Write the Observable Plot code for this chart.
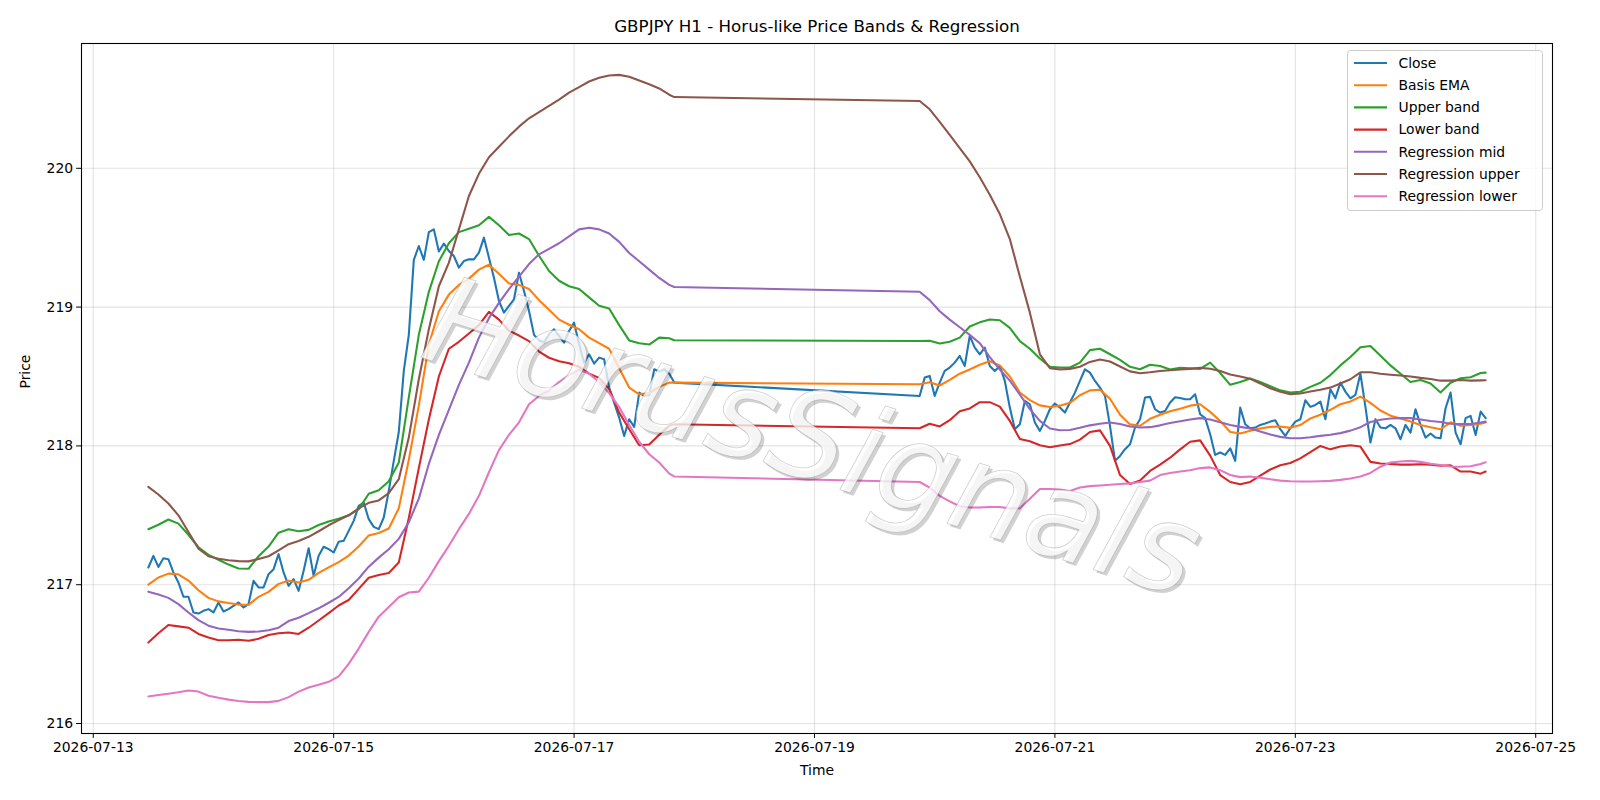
<!DOCTYPE html>
<html>
<head>
<meta charset="utf-8">
<script src="https://cdn.jsdelivr.net/npm/d3@7"></script>
<script src="https://cdn.jsdelivr.net/npm/@observablehq/plot@0.6"></script>
<style>
  body { margin: 0; background: #fff; }
  #chart svg { display: block; }
</style>
</head>
<body>
<div id="chart"></div>
<script>
// GBPJPY hourly bars: two trading sessions separated by the weekend close
const sessions = [
  ["2026-07-13T11:00Z", "2026-07-17T21:00Z"],
  ["2026-07-19T21:00Z", "2026-07-24T15:00Z"]
];

const seriesNames = ["Close", "Basis EMA", "Upper band", "Lower band", "Regression mid", "Regression upper", "Regression lower"];
const palette = ["#1f77b4", "#ff7f0e", "#2ca02c", "#d62728", "#9467bd", "#8c564b", "#e377c2"];

// Close, one value per hourly bar (Mon 11:00 .. Fri 20:00, then Sun 21:00 .. Fri 14:00)
const closePrice = [
  217.124, 217.208, 217.128, 217.19, 217.184, 217.088, 217.016, 216.913, 216.913, 216.80,
  216.792, 216.812, 216.824, 216.80, 216.872, 216.807, 216.824, 216.848, 216.872, 216.836,
  216.86, 217.028, 216.98, 216.98, 217.076, 217.112, 217.22, 217.088, 216.992, 217.04,
  216.956, 217.1, 217.263, 217.064, 217.208, 217.273, 217.256, 217.232, 217.31, 217.316,
  217.388, 217.46, 217.568, 217.592, 217.472, 217.417, 217.40, 217.484, 217.676, 217.892,
  218.1, 218.54, 218.8, 219.34, 219.44, 219.34, 219.54, 219.56, 219.40, 219.457,
  219.404, 219.368, 219.284, 219.332, 219.344, 219.344, 219.392, 219.50, 219.356, 219.212,
  219.044, 218.96, 219.008, 219.056, 219.248, 219.116, 218.972, 218.80, 218.761, 218.744,
  218.804, 218.84, 218.792, 218.744, 218.828, 218.888, 218.732, 218.60, 218.66, 218.593,
  218.636, 218.624, 218.42, 218.312, 218.204, 218.072, 218.192, 218.137, 218.384, 218.36,
  218.367, 218.552, 218.535, 218.552, 218.52, 218.456,
  // weekend gap
  218.36, 218.492, 218.504, 218.36, 218.456, 218.54, 218.564, 218.6, 218.648, 218.576,
  218.792, 218.708, 218.66, 218.708, 218.576, 218.54, 218.576, 218.468, 218.276, 218.12,
  218.156, 218.324, 218.30, 218.168, 218.108, 218.18, 218.264, 218.305, 218.276, 218.24,
  218.312, 218.384, 218.468, 218.552, 218.528, 218.468, 218.42, 218.36, 218.144, 217.892,
  217.928, 217.976, 218.012, 218.132, 218.192, 218.348, 218.353, 218.264, 218.24, 218.252,
  218.312, 218.35, 218.345, 218.336, 218.336, 218.372, 218.228, 218.2, 218.084, 217.935,
  217.952, 217.935, 217.983, 217.892, 218.276, 218.156, 218.127, 218.132, 218.151, 218.161,
  218.175, 218.185, 218.12, 218.072, 218.127, 218.175, 218.192, 218.329, 218.281, 218.295,
  218.319, 218.192, 218.408, 218.343, 218.456, 218.391, 218.343, 218.367, 218.521, 218.281,
  218.024, 218.192, 218.132, 218.127, 218.151, 218.127, 218.048, 218.151, 218.096, 218.264,
  218.151, 218.06, 218.089, 218.06, 218.055, 218.271, 218.384, 218.096, 218.012, 218.2,
  218.216, 218.079, 218.247, 218.2
];

// Smooth indicators, one value every second bar plus each session's last bar
const basisEma = [
  217.0, 217.052, 217.08, 217.075, 217.03, 216.96, 216.905, 216.88, 216.868, 216.858,
  216.855, 216.912, 216.948, 217.006, 217.028, 217.016, 217.035, 217.085, 217.125, 217.163,
  217.21, 217.275, 217.355, 217.372, 217.405, 217.55, 217.9, 218.29, 218.73, 218.97,
  219.09, 219.16, 219.205, 219.27, 219.305, 219.24, 219.17, 219.16, 219.13, 219.05,
  218.98, 218.91, 218.873, 218.84, 218.78, 218.74, 218.70, 218.56, 218.42, 218.372,
  218.38, 218.425, 218.456, 218.456,
  218.444, 218.458, 218.435, 218.475, 218.52, 218.55, 218.585, 218.61, 218.58, 218.5,
  218.385, 218.33, 218.292, 218.28, 218.29, 218.31, 218.365, 218.4, 218.405, 218.34,
  218.225, 218.155, 218.145, 218.195, 218.225, 218.25, 218.268, 218.29, 218.3, 218.245,
  218.18, 218.1, 218.09, 218.11, 218.125, 218.137, 218.14, 218.13, 218.15, 218.198,
  218.225, 218.26, 218.3, 218.32, 218.355, 218.31, 218.255, 218.218, 218.198, 218.175,
  218.15, 218.135, 218.12, 218.17, 218.145, 218.15, 218.16, 218.168
];

const upperBand = [
  217.40, 217.432, 217.47, 217.44, 217.36, 217.27, 217.215, 217.18, 217.145, 217.117,
  217.115, 217.205, 217.275, 217.375, 217.40, 217.385, 217.395, 217.43, 217.455, 217.475,
  217.50, 217.545, 217.655, 217.68, 217.745, 217.88, 218.35, 218.80, 219.11, 219.33,
  219.46, 219.54, 219.565, 219.59, 219.65, 219.59, 219.52, 219.53, 219.49, 219.37,
  219.26, 219.19, 219.15, 219.13, 219.07, 219.01, 218.99, 218.87, 218.76, 218.74,
  218.73, 218.78, 218.775, 218.761,
  218.756, 218.758, 218.737, 218.75, 218.78, 218.86, 218.89, 218.91, 218.905, 218.85,
  218.755, 218.70, 218.63, 218.57, 218.564, 218.565, 218.6, 218.69, 218.70, 218.66,
  218.62, 218.57, 218.552, 218.585, 218.575, 218.55, 218.563, 218.56, 218.555, 218.60,
  218.525, 218.44, 218.46, 218.485, 218.46, 218.43, 218.40, 218.385, 218.39, 218.425,
  218.455, 218.51, 218.58, 218.64, 218.71, 218.72, 218.65, 218.58, 218.52, 218.46,
  218.475, 218.45, 218.385, 218.455, 218.487, 218.495, 218.525, 218.528
];

const lowerBand = [
  216.584, 216.65, 216.71, 216.70, 216.69, 216.645, 216.62, 216.60, 216.6, 216.603,
  216.596, 216.61, 216.638, 216.65, 216.656, 216.645, 216.69, 216.742, 216.795, 216.85,
  216.89, 216.97, 217.05, 217.07, 217.085, 217.16, 217.48, 217.84, 218.19, 218.50,
  218.70, 218.75, 218.81, 218.87, 218.965, 218.91, 218.83, 218.795, 218.755, 218.68,
  218.635, 218.61, 218.595, 218.57, 218.52, 218.49, 218.41, 218.24, 218.12, 218.005,
  218.01, 218.08, 218.145, 218.156,
  218.127, 218.16, 218.14, 218.185, 218.25, 218.27, 218.315, 218.315, 218.283, 218.18,
  218.05, 218.033, 218.005, 217.99, 218.003, 218.013, 218.045, 218.10, 218.112, 218.0,
  217.79, 217.725, 217.75, 217.82, 217.865, 217.915, 217.975, 218.03, 218.04, 217.93,
  217.79, 217.74, 217.724, 217.74, 217.785, 217.83, 217.86, 217.877, 217.91, 217.955,
  218.0, 217.975, 217.995, 218.005, 217.995, 217.885, 217.873, 217.87, 217.865, 217.865,
  217.868, 217.865, 217.857, 217.86, 217.815, 217.815, 217.8, 217.815
];

const regressionMid = [
  216.95, 216.93, 216.905, 216.86, 216.80, 216.745, 216.705, 216.685, 216.675, 216.665,
  216.66, 216.663, 216.672, 216.69, 216.738, 216.762, 216.795, 216.83, 216.87, 216.912,
  216.975, 217.045, 217.13, 217.195, 217.255, 217.33, 217.45, 217.62, 217.87, 218.08,
  218.26, 218.44, 218.6, 218.78, 218.92, 219.03, 219.13, 219.22, 219.31, 219.38,
  219.42, 219.46, 219.51, 219.56, 219.572, 219.56, 219.53, 219.47, 219.39, 219.33,
  219.27, 219.21, 219.16, 219.145,
  219.11, 219.05, 218.97, 218.91, 218.855, 218.80, 218.74, 218.64, 218.55, 218.47,
  218.37, 218.265, 218.18, 218.125, 218.113, 218.115, 218.13, 218.148, 218.16, 218.168,
  218.158, 218.14, 218.132, 218.135, 218.148, 218.165, 218.178, 218.19, 218.2, 218.19,
  218.17, 218.15, 218.137, 218.125, 218.103, 218.082, 218.065, 218.055, 218.055, 218.062,
  218.072, 218.08, 218.092, 218.11, 218.135, 218.172, 218.188, 218.197, 218.2, 218.2,
  218.19, 218.18, 218.172, 218.16, 218.157, 218.158, 218.168, 218.175
];

const regressionUpper = [
  217.705, 217.65, 217.585, 217.50, 217.38, 217.26, 217.205, 217.187, 217.176, 217.17,
  217.168, 217.185, 217.205, 217.248, 217.292, 217.315, 217.345, 217.385, 217.428, 217.465,
  217.50, 217.55, 217.59, 217.607, 217.66, 217.76, 218.06, 218.48, 218.84, 219.15,
  219.32, 219.56, 219.80, 219.96, 220.08, 220.155, 220.23, 220.30, 220.36, 220.405,
  220.45, 220.495, 220.545, 220.585, 220.625, 220.652, 220.668, 220.673, 220.66, 220.633,
  220.605, 220.575, 220.53, 220.513,
  220.485, 220.425, 220.335, 220.24, 220.145, 220.05, 219.935, 219.81, 219.67, 219.49,
  219.22, 218.96, 218.66, 218.56, 218.55, 218.555, 218.57, 218.605, 218.622, 218.608,
  218.572, 218.537, 218.523, 218.53, 218.54, 218.545, 218.55, 218.555, 218.562, 218.556,
  218.54, 218.515, 218.5, 218.483, 218.45, 218.415, 218.39, 218.373, 218.377, 218.392,
  218.405, 218.42, 218.45, 218.48, 218.53, 218.53, 218.52, 218.513, 218.507, 218.5,
  218.49, 218.482, 218.47, 218.47, 218.475, 218.47, 218.472, 218.473
];

const regressionLower = [
  216.195, 216.205, 216.215, 216.225, 216.238, 216.23, 216.20, 216.185, 216.172, 216.162,
  216.156, 216.154, 216.154, 216.163, 216.19, 216.23, 216.26, 216.28, 216.30, 216.34,
  216.43, 216.54, 216.66, 216.77, 216.84, 216.91, 216.944, 216.95, 217.05, 217.17,
  217.28, 217.40, 217.51, 217.64, 217.81, 217.97, 218.08, 218.17, 218.30, 218.36,
  218.40, 218.46, 218.51, 218.55, 218.52, 218.46, 218.38, 218.28, 218.15, 218.03,
  217.94, 217.88, 217.80, 217.78,
  217.74, 217.70, 217.64, 217.60, 217.565, 217.556, 217.556, 217.56, 217.56, 217.55,
  217.55, 217.62, 217.69, 217.69, 217.685, 217.675, 217.70, 217.71, 217.715, 217.72,
  217.725, 217.73, 217.74, 217.75, 217.79, 217.805, 217.815, 217.825, 217.84, 217.845,
  217.825, 217.79, 217.775, 217.78, 217.77, 217.76, 217.75, 217.745, 217.743, 217.743,
  217.745, 217.748, 217.755, 217.765, 217.78, 217.805, 217.85, 217.88, 217.888, 217.892,
  217.885, 217.872, 217.862, 217.852, 217.85, 217.853, 217.87, 217.882
];

const yTicks = [216, 217, 218, 219, 220];
const xTickLabels = ["2026-07-13", "2026-07-15", "2026-07-17", "2026-07-19", "2026-07-21", "2026-07-23", "2026-07-25"];
const chartTitle = "GBPJPY H1 - Horus-like Price Bands & Regression";
const watermark = "HorusSignals";

// Time grids
const barTimes = sessions.flatMap(([a, b]) => d3.utcHour.range(new Date(a), new Date(b)));
const bandTimes = sessions.flatMap(([a, b]) => {
  const hrs = d3.utcHour.range(new Date(a), new Date(b));
  return hrs.filter((d, i) => i % 2 === 0 || i === hrs.length - 1);
});

const seriesValues = [closePrice, basisEma, upperBand, lowerBand, regressionMid, regressionUpper, regressionLower];
const rows = seriesValues.map((vals, k) => {
  const times = k === 0 ? barTimes : bandTimes;
  return vals.map((v, i) => ({time: times[i], value: v, series: seriesNames[k]}));
});

// Axis limits padded by 5% on each side
const allRows = rows.flat();
const [tMin, tMax] = d3.extent(allRows, d => d.time);
const tPad = (tMax - tMin) * 0.05;
const xDomain = [new Date(+tMin - tPad), new Date(+tMax + tPad)];
const [vMin, vMax] = d3.extent(allRows, d => d.value);
const vPad = (vMax - vMin) * 0.05;
const yDomain = [vMin - vPad, vMax + vPad];
const xTicks = xTickLabels.map(s => new Date(s + "T00:00Z"));

const font = '"DejaVu Sans", sans-serif';
const lineW = 2.08;

const wm = {frameAnchor: "middle", rotate: 17.5, fontSize: 123, fontStyle: "italic", fontFamily: font};

const chart = Plot.plot({
  width: 1600,
  height: 800,
  marginLeft: 81,
  marginRight: 48,
  marginTop: 43,
  marginBottom: 67,
  style: {fontFamily: font, fontSize: "13.9px", color: "black", background: "white", overflow: "visible"},
  x: {type: "utc", domain: xDomain},
  y: {domain: yDomain},
  color: {domain: seriesNames, range: palette},
  marks: [
    Plot.gridX(xTicks, {stroke: "#b0b0b0", strokeOpacity: 0.35, strokeWidth: 1.1}),
    Plot.gridY(yTicks, {stroke: "#b0b0b0", strokeOpacity: 0.35, strokeWidth: 1.1}),
    ...rows.map(r => Plot.line(r, {x: "time", y: "value", stroke: "series", strokeWidth: lineW, strokeLinejoin: "round"})),
    // watermark: drop shadow, then pale lettering on top
    Plot.text([watermark], {...wm, dx: -2, dy: 54, fill: "#000", fillOpacity: 0.18}),
    Plot.text([watermark], {...wm, dx: -5, dy: 51, fill: "white", fillOpacity: 0.78, stroke: "#8a8a8a", strokeOpacity: 0.4, strokeWidth: 0.8, paintOrder: "fill"}),
    Plot.frame({stroke: "black", strokeWidth: 1.1}),
    Plot.axisX(xTicks, {tickSize: 4.9, tickPadding: 3.5, tickFormat: d3.utcFormat("%Y-%m-%d"), label: null}),
    Plot.axisY(yTicks, {tickSize: 4.9, tickPadding: 3.5, tickFormat: d => String(d), label: null}),
    Plot.text([chartTitle], {frameAnchor: "top", lineAnchor: "middle", dy: -17, fontSize: 16.7, fontFamily: font, fill: "black"}),
    Plot.text(["Time"], {frameAnchor: "bottom", lineAnchor: "middle", dy: 37, fontSize: 13.9, fontFamily: font, fill: "black"}),
    Plot.text(["Price"], {frameAnchor: "left", lineAnchor: "middle", dx: -55.5, rotate: -90, fontSize: 13.9, fontFamily: font, fill: "black"})
  ]
});

// Legend box in the upper-right corner of the axes
const svg = d3.select(chart);
const lg = svg.append("g")
  .attr("font-family", font).attr("font-size", "13.9px").attr("text-anchor", "start");
lg.append("rect")
  .attr("x", 1347.5).attr("y", 50.5).attr("width", 195).attr("height", 160)
  .attr("rx", 3).attr("fill", "white").attr("fill-opacity", 0.8)
  .attr("stroke", "#cccccc").attr("stroke-width", 1);
seriesNames.forEach((name, i) => {
  const y = 63 + i * 22.2;
  lg.append("line").attr("x1", 1354).attr("x2", 1387).attr("y1", y).attr("y2", y)
    .attr("stroke", palette[i]).attr("stroke-width", lineW);
  lg.append("text").attr("x", 1398.5).attr("y", y).attr("dy", "0.35em")
    .attr("text-anchor", "start").attr("fill", "black").text(name);
});

document.getElementById("chart").appendChild(chart);
</script>
</body>
</html>
